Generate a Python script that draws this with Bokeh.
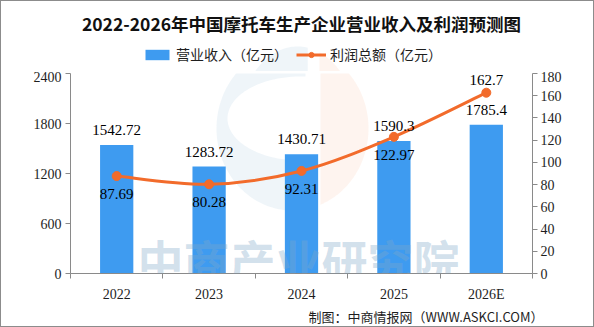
import numpy as np
from bokeh.plotting import figure
from bokeh.layouts import column
from bokeh.models import (Range1d, LinearAxis, FixedTicker, ColumnDataSource, LabelSet,
                          Label, Legend, LegendItem, PolyAnnotation, Title)
from bokeh.embed import file_html
from bokeh.resources import INLINE

# ---------------- data ----------------
years = ["2022", "2023", "2024", "2025", "2026E"]
revenue = [1542.72, 1283.72, 1430.71, 1590.3, 1785.4]      # 营业收入（亿元）
profit = [87.69, 80.28, 92.31, 122.97, 162.7]              # 利润总额（亿元）
left_ticks = [0, 600, 1200, 1800, 2400]
right_ticks = [0, 20, 40, 60, 80, 100, 120, 140, 160, 180]
profit_label_side = ["below", "below", "below", "below", "above"]

title_text = "2022-2026年中国摩托车生产企业营业收入及利润预测图"
source_text = "制图：中商情报网（WWW.ASKCI.COM）"
watermark_text = "中商产业研究院"
rev_name = "营业收入（亿元）"
pro_name = "利润总额（亿元）"

BAR = "#3E9BF0"
LINE = "#F26B2B"
AXIS = "#8A8A8A"
TXT = "#1E1E1E"
NUM_FONT = "Liberation Serif"
CJK = "Noto Sans CJK SC"
WM_BLUE = "#D6E5EF"
WM_RED = "#FCE3D8"

# page geometry (px); page origin includes a 1px border
W = 592
HEAD_H = 70
MAIN_H = 255
FL, FR, FT, FB = 70, 532, 73, 273
MAIN_TOP = 1 + HEAD_H

xs = list(range(len(years)))

# ---------------- watermark logo outline (page px, decoration) ----------------
ocx, ocy, orx, ory = 292, 128, 76, 82
icx, icy, irx, iry = 300, 118, 73, 42
cut_b, cut_s = 305, 320
t0 = np.arccos((cut_b - ocx) / orx)
th = np.linspace(t0, 2 * np.pi - t0, 120)
f0 = np.arccos((cut_b - icx) / irx)
ph = np.linspace(2 * np.pi - f0, f0, 120)
blue_x = list(ocx + orx * np.cos(th)) + list(icx + irx * np.cos(ph))
blue_y = list(ocy - ory * np.sin(th)) + list(icy - iry * np.sin(ph))
t1 = np.arccos((cut_s - ocx) / orx)
th2 = np.linspace(-t1, t1, 100)
red_x = list(ocx + orx * np.cos(th2))
red_y = list(ocy - ory * np.sin(th2))

# ================= header (title + legend) =================
h = figure(width=W, height=HEAD_H, output_backend="svg", toolbar_location=None,
           x_range=Range1d(1, 1 + W), y_range=Range1d(1 + HEAD_H, 1),
           min_border=0, background_fill_color="white", border_fill_color="white")
h.axis.visible = False
h.grid.visible = False
h.outline_line_color = None
h.add_layout(PolyAnnotation(xs=blue_x, ys=blue_y, fill_color=WM_BLUE, line_color=None,
                            level="underlay"))
h.add_layout(PolyAnnotation(xs=red_x, ys=red_y, fill_color=WM_RED, line_color=None,
                            level="underlay"))
h.add_layout(Label(x=297, y=23, text=title_text, text_align="center",
                   text_baseline="middle", text_font=CJK, text_font_size="17.5px",
                   text_font_style="bold", text_color="#111111"))
# legend-only renderers (hidden in the header; they only provide the legend swatches)
lg_bar = h.vbar(x=xs, top=revenue, width=0.36, fill_color=BAR, line_color=None, visible=False)
lg_line = h.line(x=xs, y=profit, line_color=LINE, line_width=3, visible=False)
lg_dot = h.scatter(x=xs, y=profit, size=9, fill_color=LINE, line_color=LINE, visible=False)
legend = Legend(items=[LegendItem(label=rev_name, renderers=[lg_bar]),
                       LegendItem(label=pro_name, renderers=[lg_line, lg_dot])],
                orientation="horizontal", location=(72, 7),
                glyph_width=30, glyph_height=13, label_height=13,
                label_standoff=4, spacing=8, padding=0, margin=0,
                border_line_color=None, background_fill_alpha=0,
                label_text_font=CJK, label_text_font_size="14px", label_text_color=TXT)
h.add_layout(legend, "center")

# ================= main chart =================
p = figure(width=W, height=MAIN_H, output_backend="svg", toolbar_location=None,
           x_range=Range1d(-0.5, len(years) - 0.5), y_range=Range1d(0, 2400),
           min_border_left=FL - 1, min_border_right=W - (FR - 1),
           min_border_top=FT - MAIN_TOP, min_border_bottom=MAIN_H - (FB - MAIN_TOP),
           background_fill_color="white", border_fill_color="white")
p.outline_line_color = None
p.grid.visible = False
p.extra_y_ranges = {"y2": Range1d(0, 180)}

def sx(cx):
    return cx - FL

def sy(cy):
    return FB - cy

p.add_layout(PolyAnnotation(xs=[sx(v) for v in blue_x], ys=[sy(v) for v in blue_y],
                            xs_units="screen", ys_units="screen",
                            fill_color=WM_BLUE, line_color=None, level="underlay"))
p.add_layout(PolyAnnotation(xs=[sx(v) for v in red_x], ys=[sy(v) for v in red_y],
                            xs_units="screen", ys_units="screen",
                            fill_color=WM_RED, line_color=None, level="underlay"))

bsrc = ColumnDataSource(dict(x=xs, top=revenue, txt=[str(v) for v in revenue]))
bars = p.vbar(x="x", top="top", width=0.36, source=bsrc, fill_color=BAR, line_color=None)

# smooth profit line: cubic Bezier segments through the data points
px = np.array(xs, dtype=float)
py = np.array(profit, dtype=float)
n = len(px)
k = 1.0 / 6.0
x0s, y0s, x1s, y1s, c0x, c0y, c1x, c1y = [], [], [], [], [], [], [], []
for i in range(n - 1):
    pm = max(i - 1, 0)
    pp = min(i + 2, n - 1)
    x0s.append(px[i]); y0s.append(py[i])
    x1s.append(px[i + 1]); y1s.append(py[i + 1])
    c0x.append(px[i] + (px[i + 1] - px[pm]) * k)
    c0y.append(py[i] + (py[i + 1] - py[pm]) * k)
    c1x.append(px[i + 1] - (px[pp] - px[i]) * k)
    c1y.append(py[i + 1] - (py[pp] - py[i]) * k)
p.bezier(x0=x0s, y0=y0s, x1=x1s, y1=y1s, cx0=c0x, cy0=c0y, cx1=c1x, cy1=c1y,
         line_color=LINE, line_width=3, y_range_name="y2")
lsrc = ColumnDataSource(dict(x=xs, y=profit, txt=[str(v) for v in profit],
                             off=[13 if s == "above" else -18 for s in profit_label_side]))
p.scatter(x="x", y="y", source=lsrc, size=9, fill_color=LINE, line_color=LINE,
          y_range_name="y2")

p.add_layout(LabelSet(x="x", y="top", text="txt", source=bsrc, y_offset=15,
                      text_align="center", text_baseline="middle",
                      text_font=NUM_FONT, text_font_size="15px", text_color="#000000"))
p.add_layout(LabelSet(x="x", y="y", text="txt", source=lsrc, y_offset="off",
                      y_range_name="y2", text_align="center", text_baseline="middle",
                      text_font=NUM_FONT, text_font_size="15px", text_color="#000000"))

xa = p.xaxis[0]
xa.ticker = FixedTicker(ticks=xs, minor_ticks=[v - 0.5 for v in xs] + [xs[-1] + 0.5])
xa.major_label_overrides = {v: years[v] for v in xs}
xa.major_tick_out = 0
xa.major_tick_in = 0
xa.minor_tick_out = 5
xa.minor_tick_in = 0
xa.minor_tick_line_color = AXIS
xa.axis_line_color = AXIS
xa.major_label_standoff = 8
xa.major_label_text_font = NUM_FONT
xa.major_label_text_font_size = "14px"
xa.major_label_text_color = TXT

ya = p.yaxis[0]
ya.ticker = FixedTicker(ticks=left_ticks, minor_ticks=[])
ya.major_tick_out = 5
ya.major_tick_in = 0
ya.major_tick_line_color = AXIS
ya.axis_line_color = AXIS
ya.major_label_standoff = 4
ya.major_label_text_font = NUM_FONT
ya.major_label_text_font_size = "14px"
ya.major_label_text_color = TXT

ra = LinearAxis(y_range_name="y2", ticker=FixedTicker(ticks=right_ticks, minor_ticks=[]))
ra.major_tick_out = 5
ra.major_tick_in = 0
ra.major_tick_line_color = AXIS
ra.axis_line_color = AXIS
ra.major_label_standoff = 3
ra.major_label_text_font = NUM_FONT
ra.major_label_text_font_size = "14px"
ra.major_label_text_color = TXT
p.add_layout(ra, "right")

p.add_layout(Title(text=source_text, align="right", offset=-11, standoff=0,
                   text_font=CJK, text_font_size="13px", text_font_style="normal",
                   text_color=TXT), "below")

p.add_layout(Label(x=298 - FL, y=FB - 258, x_units="screen", y_units="screen",
                   text=watermark_text, text_align="center", text_baseline="middle",
                   text_font=CJK, text_font_size="46px", text_font_style="bold",
                   text_color="#7FA8C8", text_alpha=0.35, level="overlay"))

page = column(h, p, spacing=0)
page.styles = {"border": "1px solid #8c8c8c"}

open("out.html", "w").write(file_html(page, INLINE))
